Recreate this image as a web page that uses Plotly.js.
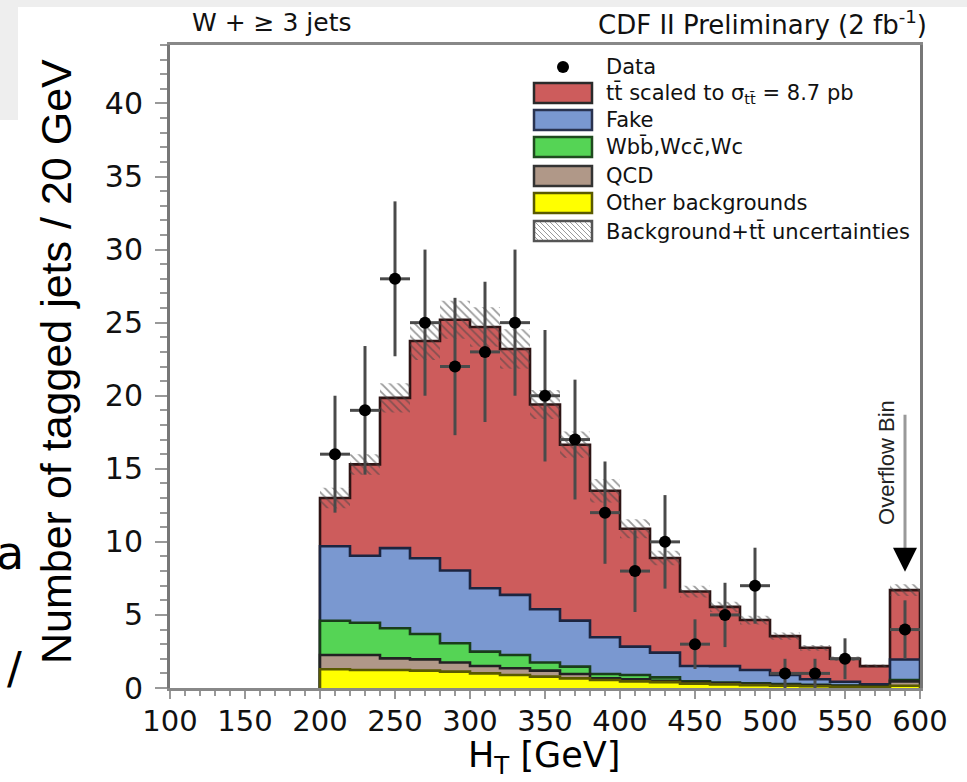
<!DOCTYPE html>
<html>
<head>
<meta charset="utf-8">
<script src="https://cdn.plot.ly/plotly-3.0.1.min.js"></script>
<style>
  html, body { margin: 0; padding: 0; background: #ffffff; }
  #chart { width: 967px; height: 782px; }
</style>
</head>
<body>
<div id="chart"></div>
<script>
// ---------------- data ----------------
const binEdges   = [200,220,240,260,280,300,320,340,360,380,400,420,440,460,480,500,520,540,560,580,600];
const binCenters = [210,230,250,270,290,310,330,350,370,390,410,430,450,470,490,510,530,550,570,590];

// stacked components per bin (last bin = overflow)
const otherBkg = [1.28,1.23,1.23,1.19,1.12,1.00,0.89,0.78,0.66,0.55,0.45,0.40,0.30,0.25,0.20,0.15,0.12,0.09,0.07,0.15];
const qcd      = [0.98,1.03,0.80,0.77,0.62,0.51,0.46,0.41,0.30,0.11,0.15,0.10,0.08,0.07,0.07,0.07,0.06,0.04,0.03,0.30];
const wjets    = [2.34,2.21,2.06,1.74,1.32,0.98,0.91,0.55,0.50,0.30,0.29,0.23,0.07,0.06,0.05,0.05,0.04,0.03,0.02,0.10];
const fake     = [5.10,4.58,5.48,5.18,4.98,4.34,4.11,3.65,3.15,2.51,1.94,1.69,1.06,1.12,0.91,0.63,0.38,0.27,0.13,1.40];
const ttbar    = [3.30,6.25,10.28,14.87,17.16,17.87,16.83,14.01,12.04,10.03,8.07,6.48,5.09,4.05,3.42,2.65,2.15,1.57,1.25,4.75];
const totalUnc = [0.70,0.70,1.00,1.30,1.30,1.35,1.35,1.00,0.90,0.80,0.65,0.50,0.40,0.35,0.30,0.25,0.20,0.15,0.10,0.40];

const dataVal  = [16,19,28,25,22,23,25,20,17,12,8,10,3,5,7,1,1,2,null,4];
const dataErr  = [4.0,4.4,5.3,5.0,4.7,4.8,5.0,4.5,4.1,3.5,2.8,3.2,1.7,2.2,2.6,1.0,1.0,1.4,null,2.0];

const xTickVals = [100,150,200,250,300,350,400,450,500,550,600];
const yTickVals = [0,5,10,15,20,25,30,35,40];

// ---------------- helpers ----------------
const FONT = "Liberation Sans, Arial, Helvetica, sans-serif";
const WIDE = "DejaVu Sans, Liberation Sans, sans-serif";
const nb = binCenters.length;
function addArr(a, b) { return a.map((v, i) => v + b[i]); }
const cumOther = otherBkg.slice();
const cumQcd   = addArr(cumOther, qcd);
const cumW     = addArr(cumQcd, wjets);
const cumFake  = addArr(cumW, fake);
const cumTot   = addArr(cumFake, ttbar);

function stepTrace(vals, fill, lineCol) {
  const x = [binEdges[0]].concat(binEdges.slice(0, nb)).concat([binEdges[nb], binEdges[nb]]);
  const y = [0].concat(vals).concat([vals[nb - 1], 0]);
  return {
    type: 'scatter', mode: 'lines', x: x, y: y,
    line: { shape: 'hv', color: lineCol, width: 2.6 },
    fill: 'tozeroy', fillcolor: fill, hoverinfo: 'skip', showlegend: false
  };
}
function bandX() { return binEdges.slice(0, nb).concat([binEdges[nb]]); }
function bandY(vals) { return vals.concat([vals[nb - 1]]); }

const RED = '#cd5c5c', BLUE = '#7a98d0', GREEN = '#55d455', BROWN = '#b09888', YELLOW = '#ffff00';

const traces = [
  stepTrace(cumTot,  RED,    '#2e1414'),
  stepTrace(cumFake, BLUE,   '#1c2540'),
  stepTrace(cumW,    GREEN,  '#1a3d1a'),
  stepTrace(cumQcd,  BROWN,  '#222222'),
  stepTrace(cumOther,YELLOW, '#5a5a00'),
  {
    type: 'scatter', mode: 'lines', x: bandX(), y: bandY(cumTot.map((v, i) => v - totalUnc[i])),
    line: { shape: 'hv', width: 0, color: 'rgba(0,0,0,0)' }, hoverinfo: 'skip', showlegend: false
  },
  {
    type: 'scatter', mode: 'lines', x: bandX(), y: bandY(cumTot.map((v, i) => v + totalUnc[i])),
    line: { shape: 'hv', width: 0, color: 'rgba(0,0,0,0)' },
    fill: 'tonexty', fillcolor: 'rgba(0,0,0,0)',
    fillpattern: { shape: '\\', fgcolor: 'rgba(70,70,70,0.55)', bgcolor: 'rgba(255,255,255,0)', size: 6, solidity: 0.3 },
    hoverinfo: 'skip', showlegend: false
  },
  {
    type: 'scatter', mode: 'markers', x: binCenters, y: dataVal,
    marker: { color: '#000000', size: 12, symbol: 'circle' },
    error_y: { type: 'data', array: dataErr, visible: true, color: '#4a4a4a', thickness: 3, width: 0 },
    error_x: { type: 'constant', value: 10, visible: true, color: '#4a4a4a', thickness: 3, width: 0 },
    hoverinfo: 'skip', showlegend: false
  }
];

// ---------------- pixel -> paper helpers (plot area 170..920 x 45..688) ----------------
const L = 170, R = 920, T = 45, B = 688;
const px = x => (x - L) / (R - L);
const py = y => (B - y) / (B - T);

const shapes = [];
const annotations = [];

// slide background remnants
shapes.push({ type: 'rect', xref: 'paper', yref: 'paper', x0: px(0), x1: px(967), y0: py(7), y1: py(0),
  fillcolor: '#eeeeee', line: { width: 0 }, layer: 'below' });
shapes.push({ type: 'rect', xref: 'paper', yref: 'paper', x0: px(0), x1: px(18), y0: py(120), y1: py(0),
  fillcolor: '#eeeeee', line: { width: 0 }, layer: 'below' });

// legend
const legX0 = 534, legX1 = 592, txtX = 604;
const legRows = [
  { y: 93,  fill: RED,    line: '#2a2a2a', text: 'tt\u0304 scaled to \u03c3<sub>tt\u0304</sub> = 8.7 pb' },
  { y: 120, fill: BLUE,   line: '#2a3350', text: 'Fake' },
  { y: 147, fill: GREEN,  line: '#1f4a1f', text: 'Wbb\u0304,Wcc\u0304,Wc' },
  { y: 176, fill: BROWN,  line: '#333333', text: 'QCD' },
  { y: 203, fill: YELLOW, line: '#5a5a00', text: 'Other backgrounds' },
  { y: 231, fill: '#ffffff', line: '#555555', text: 'Background+tt\u0304 uncertainties' }
];
legRows.forEach((r, k) => {
  shapes.push({ type: 'rect', xref: 'paper', yref: 'paper', x0: px(legX0), x1: px(legX1), y0: py(r.y + 10), y1: py(r.y - 10),
    fillcolor: r.fill, line: { color: r.line, width: 2.5 } });
  annotations.push({ xref: 'paper', yref: 'paper', x: px(txtX), y: py(r.y), xanchor: 'left', yanchor: 'middle',
    text: r.text, showarrow: false, font: { family: WIDE, size: 21, color: '#111' } });
});
// hatch lines inside last swatch
(function () {
  const y0 = 221, y1 = 241;
  for (let s = legX0 - 20; s < legX1; s += 5) {
    let xa = s, ya = y0, xb = s + (y1 - y0), yb = y1;
    if (xa < legX0 + 1) { ya = y0 + (legX0 + 1 - xa); xa = legX0 + 1; }
    if (xb > legX1 - 1) { yb = y1 - (xb - (legX1 - 1)); xb = legX1 - 1; }
    if (ya >= yb) continue;
    shapes.push({ type: 'line', xref: 'paper', yref: 'paper', x0: px(xa), y0: py(ya), x1: px(xb), y1: py(yb),
      line: { color: 'rgba(90,90,90,0.6)', width: 1 } });
  }
})();
// Data marker in legend
shapes.push({ type: 'circle', xref: 'paper', yref: 'paper', x0: px(557), x1: px(569), y0: py(73), y1: py(61),
  fillcolor: '#000', line: { color: '#000', width: 0 } });
annotations.push({ xref: 'paper', yref: 'paper', x: px(txtX), y: py(67), xanchor: 'left', yanchor: 'middle',
  text: 'Data', showarrow: false, font: { family: WIDE, size: 21, color: '#111' } });

// top labels
annotations.push({ xref: 'paper', yref: 'paper', x: px(190), y: py(23), xanchor: 'left', yanchor: 'middle',
  text: 'W + \u2265 3 jets', showarrow: false, font: { family: WIDE, size: 25, color: '#111' } });
annotations.push({ xref: 'paper', yref: 'paper', x: px(929), y: py(23), xanchor: 'right', yanchor: 'middle',
  text: 'CDF II Preliminary (2 fb<sup>-1</sup>)', showarrow: false, font: { family: WIDE, size: 26, color: '#111' } });

// axis titles
annotations.push({ xref: 'paper', yref: 'paper', x: px(56), y: py(362), xanchor: 'center', yanchor: 'middle',
  text: 'Number of tagged jets / 20 GeV', textangle: -90, showarrow: false, font: { family: FONT, size: 43, color: '#000' } });
annotations.push({ xref: 'paper', yref: 'paper', x: px(544), y: py(757), xanchor: 'center', yanchor: 'middle',
  text: 'H<sub>T</sub> [GeV]', showarrow: false, font: { family: WIDE, size: 35, color: '#000' } });

// overflow marker
annotations.push({ xref: 'x', yref: 'y', x: 580, y: 15.4, xanchor: 'center', yanchor: 'middle', xshift: -3,
  text: 'Overflow Bin', textangle: -90, showarrow: false, font: { family: FONT, size: 22, color: '#222' } });
shapes.push({ type: 'line', xref: 'x', yref: 'y', x0: 590, x1: 590, y0: 18.7, y1: 9.0,
  line: { color: '#999999', width: 3 } });
annotations.push({ xref: 'x', yref: 'y', x: 590, y: 7.95, ax: 0, ay: -18, text: '', showarrow: true,
  arrowhead: 2, arrowsize: 1.6, arrowwidth: 3, arrowcolor: '#000' });

// stray slide glyphs at the left border
annotations.push({ xref: 'paper', yref: 'paper', x: px(10), y: py(553), xanchor: 'center', yanchor: 'middle',
  text: 'a', showarrow: false, font: { family: 'DejaVu Sans, sans-serif', size: 46, color: '#000' } });
annotations.push({ xref: 'paper', yref: 'paper', x: px(14), y: py(668), xanchor: 'center', yanchor: 'middle',
  text: '/', showarrow: false, font: { family: 'DejaVu Sans, sans-serif', size: 44, color: '#000' } });

const layout = {
  width: 967, height: 782,
  margin: { l: L, r: 967 - R, t: T, b: 782 - B, pad: 0 },
  paper_bgcolor: '#ffffff', plot_bgcolor: '#ffffff',
  showlegend: false, hovermode: false,
  font: { family: FONT, color: '#000' },
  xaxis: {
    range: [100, 600], tickvals: xTickVals, ticktext: xTickVals.map(String),
    ticks: 'outside', ticklen: 8, tickwidth: 2, tickcolor: '#999',
    minor: { dtick: 10, tick0: 100, ticks: 'outside', ticklen: 5, tickwidth: 2, tickcolor: '#999' },
    showline: true, linecolor: '#888', linewidth: 3, mirror: true,
    showgrid: false, zeroline: false, ticklabelstandoff: -3,
    tickfont: { family: WIDE, size: 29, color: '#111' }
  },
  yaxis: {
    range: [0, 44], tickvals: yTickVals, ticktext: yTickVals.map(String),
    ticks: 'outside', ticklen: 12, tickwidth: 2, tickcolor: '#999',
    minor: { dtick: 1, tick0: 0, ticks: 'outside', ticklen: 7, tickwidth: 2, tickcolor: '#999' },
    showline: true, linecolor: '#777', linewidth: 3, mirror: true,
    showgrid: false, zeroline: false, ticklabelstandoff: 6,
    tickfont: { family: WIDE, size: 30, color: '#111' }
  },
  shapes: shapes,
  annotations: annotations
};

Plotly.newPlot('chart', traces, layout, { staticPlot: true, displayModeBar: false });
</script>
</body>
</html>
